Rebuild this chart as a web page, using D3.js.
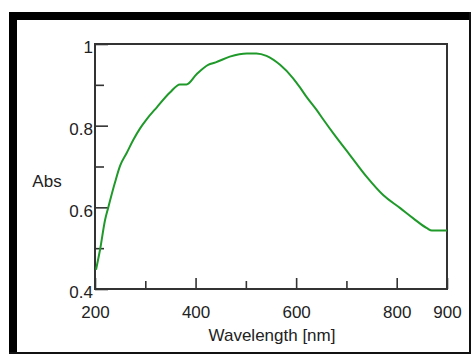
<!DOCTYPE html>
<html>
<head>
<meta charset="utf-8">
<script src="https://cdn.jsdelivr.net/npm/d3@7"></script>
<style>
  html, body { margin: 0; padding: 0; background: #fff; }
  svg { display: block; font-family: "Liberation Sans", Arial, sans-serif; }
  .tick text { font-size: 17px; fill: #222; }
</style>
</head>
<body>
<svg id="chart" width="471" height="356"></svg>
<script>
// spectrum
const wavelength = [202, 210, 220, 226, 240, 250, 263, 276, 290, 303, 323, 349, 369, 382, 402, 425, 440, 468,
  502, 521, 541, 568, 594, 608, 621, 641, 654, 674, 707, 740, 773, 807, 833, 860, 870, 900];
const absorbance = [0.447, 0.496, 0.569, 0.598, 0.662, 0.702, 0.733, 0.765, 0.794, 0.816, 0.845, 0.881, 0.901, 0.901,
  0.926, 0.949, 0.955, 0.969, 0.977, 0.977, 0.971, 0.949, 0.916, 0.893, 0.870, 0.838, 0.815, 0.781, 0.728, 0.675,
  0.630, 0.598, 0.573, 0.549, 0.543, 0.543];

const xTicks = [200, 300, 400, 500, 600, 700, 800, 900];
const xLabels = [200, 400, 600, 800, 900];
const yTicks = [0.4, 0.5, 0.6, 0.7, 0.8, 0.9, 1];
const yLabels = [0.4, 0.6, 0.8, 1];

const svg = d3.select('#chart');
const plotLeft = 95, plotRight = 447, plotTop = 44, plotBottom = 289;
const ink = '#333';

// outer frame: heavy top/left, thin right/bottom
svg.append('rect').attr('x', 9).attr('y', 12).attr('width', 462).attr('height', 8).attr('fill', '#000');
svg.append('rect').attr('x', 9).attr('y', 12).attr('width', 8).attr('height', 342).attr('fill', '#000');
svg.append('rect').attr('x', 469).attr('y', 12).attr('width', 2).attr('height', 342).attr('fill', '#111');
svg.append('rect').attr('x', 9).attr('y', 352).attr('width', 462).attr('height', 2).attr('fill', '#111');

const x = d3.scaleLinear().domain([200, 900]).range([plotLeft, plotRight]);
const y = d3.scaleLinear().domain([0.4, 1]).range([plotBottom, plotTop]);

const xAxis = d3.axisBottom(x)
  .tickValues(xTicks)
  .tickSizeInner(-11)
  .tickSizeOuter(0)
  .tickPadding(17)
  .tickFormat(d => xLabels.includes(d) ? d : '');
const gx = svg.append('g').attr('transform', 'translate(0,' + plotBottom + ')').call(xAxis);
gx.select('.domain').remove();
gx.selectAll('.tick line')
  .attr('y2', d => xLabels.includes(d) ? -11 : -8)
  .attr('stroke', ink).attr('stroke-width', 1.6);

const yAxis = d3.axisLeft(y)
  .tickValues(yTicks)
  .tickSizeInner(-13)
  .tickSizeOuter(0)
  .tickPadding(2)
  .tickFormat(d => yLabels.includes(d) ? d3.format('')(d) : '');
const gy = svg.append('g').attr('transform', 'translate(' + plotLeft + ',0)').call(yAxis);
gy.select('.domain').remove();
gy.selectAll('.tick line')
  .attr('x2', d => yLabels.includes(d) ? 13 : 9)
  .attr('stroke', ink).attr('stroke-width', 1.6);
gy.selectAll('.tick text').attr('dy', '0.52em');

// plot frame
svg.append('rect')
  .attr('x', plotLeft).attr('y', plotTop)
  .attr('width', plotRight - plotLeft).attr('height', plotBottom - plotTop)
  .attr('fill', 'none').attr('stroke', ink).attr('stroke-width', 2);

// curve
const points = wavelength.map((w, i) => [w, absorbance[i]]);
const line = d3.line()
  .x(d => x(d[0]))
  .y(d => y(d[1]))
  .curve(d3.curveMonotoneX);
svg.append('path')
  .datum(points)
  .attr('fill', 'none')
  .attr('stroke', '#1f9a2a')
  .attr('stroke-width', 2)
  .attr('d', line);

// axis titles
svg.append('text')
  .attr('x', 47).attr('y', 187)
  .attr('text-anchor', 'middle')
  .attr('font-size', 17).attr('fill', '#222')
  .text('Abs');
svg.append('text')
  .attr('x', 272).attr('y', 341)
  .attr('text-anchor', 'middle')
  .attr('font-size', 17).attr('fill', '#222')
  .text('Wavelength [nm]');
</script>
</body>
</html>
